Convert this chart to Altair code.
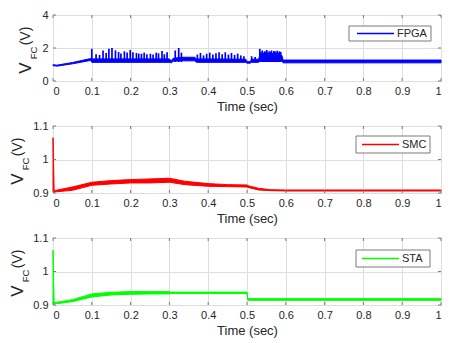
import altair as alt
import pandas as pd

# ---------------- data ----------------
time_ticks = [0, 0.1, 0.2, 0.3, 0.4, 0.5, 0.6, 0.7, 0.8, 0.9, 1.0]
fpga_yticks = [0, 2, 4]
vfc_yticks = [0.9, 1.0, 1.1]

# FPGA: dense band (lower / upper envelope)
fpga_band_t = [0.0, 0.01, 0.05, 0.097, 0.1, 0.3, 0.305, 0.31, 0.335, 0.365, 0.37, 0.497,
               0.5, 0.508, 0.512, 0.53, 0.533, 0.59, 0.593, 1.0]
fpga_band_lo = [0.93, 0.9, 1.04, 1.25, 1.13, 1.13, 1.1, 1.2, 1.22, 1.22, 1.13, 1.13,
                1.08, 1.08, 1.13, 1.13, 1.2, 1.2, 1.1, 1.1]
fpga_band_hi = [0.99, 0.96, 1.12, 1.36, 1.34, 1.34, 1.22, 1.38, 1.44, 1.44, 1.34, 1.32,
                1.17, 1.17, 1.32, 1.32, 1.55, 1.55, 1.27, 1.27]

# FPGA: spikes (time, peak)
fpga_spike_t = [0.100, 0.111, 0.120, 0.129, 0.137, 0.144, 0.152, 0.161, 0.169, 0.175,
                0.184, 0.191, 0.199, 0.206, 0.215, 0.221, 0.228, 0.235, 0.242, 0.251,
                0.258, 0.266, 0.272, 0.281, 0.287, 0.294,
                0.315, 0.324, 0.331,
                0.372, 0.380, 0.388, 0.396, 0.404, 0.412, 0.420, 0.428, 0.436, 0.444,
                0.452, 0.460, 0.468, 0.476, 0.484, 0.492,
                0.512, 0.521, 0.533,
                0.536, 0.539, 0.542, 0.545, 0.548, 0.551, 0.554, 0.557, 0.560, 0.563,
                0.566, 0.569, 0.572, 0.575, 0.578, 0.581, 0.584, 0.587]
fpga_spike_peak = [1.95, 1.62, 1.58, 1.85, 1.7, 1.95, 2.0, 1.86, 1.76, 1.67,
                   1.8, 1.72, 1.88, 1.75, 1.7, 1.66, 1.65, 1.72, 1.62, 1.65,
                   1.6, 1.72, 1.68, 1.82, 1.62, 1.75,
                   1.85, 2.0, 1.72,
                   1.6, 1.7, 1.55, 1.65, 1.72, 1.6, 1.68, 1.75, 1.62, 1.74,
                   1.6, 1.7, 1.58, 1.66, 1.55, 1.5,
                   1.5, 1.45, 1.95,
                   1.75, 1.85, 1.7, 1.8, 1.78, 1.88, 1.72, 1.8, 1.76, 1.85,
                   1.7, 1.82, 1.8, 1.75, 1.84, 1.72, 1.8, 1.75]
fpga_spike_base = [1.15] * len(fpga_spike_t)

# SMC band
smc_t = [0.0, 0.003, 0.05, 0.1, 0.15, 0.2, 0.25, 0.3, 0.34, 0.4, 0.45, 0.5, 0.505,
         0.53, 0.56, 0.6, 1.0]
smc_lo = [0.904, 0.903, 0.908, 0.923, 0.927, 0.930, 0.930, 0.932, 0.925, 0.920, 0.919,
          0.918, 0.916, 0.909, 0.907, 0.906, 0.906]
smc_hi = [1.065, 0.907, 0.918, 0.932, 0.937, 0.940, 0.942, 0.944, 0.935, 0.928, 0.925,
          0.924, 0.921, 0.914, 0.910, 0.909, 0.909]

# STA band
sta_t = [0.0, 0.003, 0.05, 0.1, 0.15, 0.2, 0.25, 0.3, 0.303, 0.5, 0.502, 1.0]
sta_lo = [0.905, 0.903, 0.910, 0.924, 0.930, 0.932, 0.933, 0.933, 0.9345, 0.9345, 0.914, 0.914]
sta_hi = [1.064, 0.907, 0.916, 0.933, 0.938, 0.940, 0.940, 0.940, 0.9385, 0.9385, 0.919, 0.919]

# ---------------- styling ----------------
FONT = "Liberation Sans"
TXT = "#262626"
FRAME = "#7a7a7a"
W = 388
HEIGHTS = [66, 67, 67]


def panel(band_t, band_lo, band_hi, color, label, ydomain, yticks, title_x,
          legend_box, H, spikes=None):
    band_df = pd.DataFrame({"t": band_t, "lo": band_lo, "hi": band_hi})
    x = alt.X("t:Q", scale=alt.Scale(domain=[0, 1], nice=False, zero=False),
              axis=alt.Axis(values=time_ticks, format="~g", title="Time (sec)",
                            labelOverlap=False, labelPadding=4, titlePadding=4,
                            titleFontSize=13, titleFontWeight="normal", titleFont=FONT,
                            titleColor=TXT))
    y = alt.Y("lo:Q", scale=alt.Scale(domain=ydomain, nice=False, zero=False),
              axis=alt.Axis(values=yticks, format="~g", title=None, labelPadding=5,
                            labelOverlap=False))
    layers = []
    band = alt.Chart(band_df).mark_area(color=color, stroke=color, strokeWidth=1,
                                        opacity=1).encode(x=x, y=y, y2="hi:Q")
    layers.append(band)
    if spikes is not None:
        sp = pd.DataFrame({"t": spikes[0], "lo": spikes[1], "peak": spikes[2]})
        layers.append(alt.Chart(sp).mark_rule(color=color, strokeWidth=1.7)
                      .encode(x=x, y=y, y2="peak:Q"))

    # inward ticks (MATLAB box style), sharing the same scales/axes
    xt = pd.DataFrame({"t": time_ticks})
    yt = pd.DataFrame({"lo": yticks})
    layers.append(alt.Chart(xt).mark_rule(color=FRAME).encode(
        x=x, y=alt.value(H), y2=alt.value(H - 3)))
    layers.append(alt.Chart(xt).mark_rule(color=FRAME).encode(
        x=x, y=alt.value(0), y2=alt.value(3)))
    layers.append(alt.Chart(yt).mark_rule(color=FRAME).encode(
        y=y, x=alt.value(0), x2=alt.value(3)))
    layers.append(alt.Chart(yt).mark_rule(color=FRAME).encode(
        y=y, x=alt.value(W), x2=alt.value(W - 3)))

    # legend box
    bx0, bx1, by0, by1, lx0, lx1, tx = legend_box
    leg = pd.DataFrame({"label": [label]})
    layers.append(alt.Chart(leg).mark_rect(fill="white", stroke=FRAME, strokeWidth=1)
                  .encode(x=alt.value(bx0), x2=alt.value(bx1), y=alt.value(by0), y2=alt.value(by1)))
    layers.append(alt.Chart(leg).mark_rule(color=color, strokeWidth=1.3)
                  .encode(x=alt.value(lx0), x2=alt.value(lx1), y=alt.value((by0 + by1) / 2)))
    layers.append(alt.Chart(leg).mark_text(align="left", baseline="middle", font=FONT,
                                           fontSize=11, color=TXT)
                  .encode(x=alt.value(tx), y=alt.value((by0 + by1) / 2 + 0.5), text="label:N"))

    # y title  V_FC (V)
    for s, dx, yy, fs in [("V", 0, 53, 17), ("FC", 7.5, 38, 9.5), ("(V)", 0, 21, 14)]:
        d = pd.DataFrame({"s": [s]})
        layers.append(alt.Chart(d).mark_text(angle=270, align="center", baseline="middle",
                                             font=FONT, fontSize=fs, color=TXT)
                      .encode(x=alt.value(title_x + dx), y=alt.value(yy), text="s:N"))
    # invisible left guide to keep panels aligned
    g = pd.DataFrame({"s": ["g"]})
    layers.append(alt.Chart(g).mark_rule(strokeOpacity=0).encode(
        x=alt.value(-43), y=alt.value(0), y2=alt.value(H)))

    return alt.layer(*layers).properties(width=W, height=H)


p1 = panel(fpga_band_t, fpga_band_lo, fpga_band_hi, "#0000ff", "FPGA", [0, 4], fpga_yticks,
           -27, (296, 378, 11, 26, 304, 341, 344), HEIGHTS[0],
           spikes=(fpga_spike_t, fpga_spike_base, fpga_spike_peak))
p2 = panel(smc_t, smc_lo, smc_hi, "#ff0000", "SMC", [0.9, 1.1], vfc_yticks,
           -35, (303, 377, 10, 27, 309, 346, 349), HEIGHTS[1])
p3 = panel(sta_t, sta_lo, sta_hi, "#00ff00", "STA", [0.9, 1.1], vfc_yticks,
           -35, (303, 377, 12, 29, 309, 346, 349), HEIGHTS[2])

chart = alt.vconcat(p1, p2, p3, spacing=5).properties(
    padding={"left": 0, "top": 0, "right": 0, "bottom": 0}
).configure_view(stroke=FRAME, strokeWidth=1).configure_axis(
    grid=True, gridColor="#dedede", gridWidth=1, domain=False, ticks=False,
    labelFont=FONT, labelFontSize=11, labelColor=TXT, labelOverlap=False
)

chart.save("out.html", embed_options={"renderer": "svg", "actions": False})
